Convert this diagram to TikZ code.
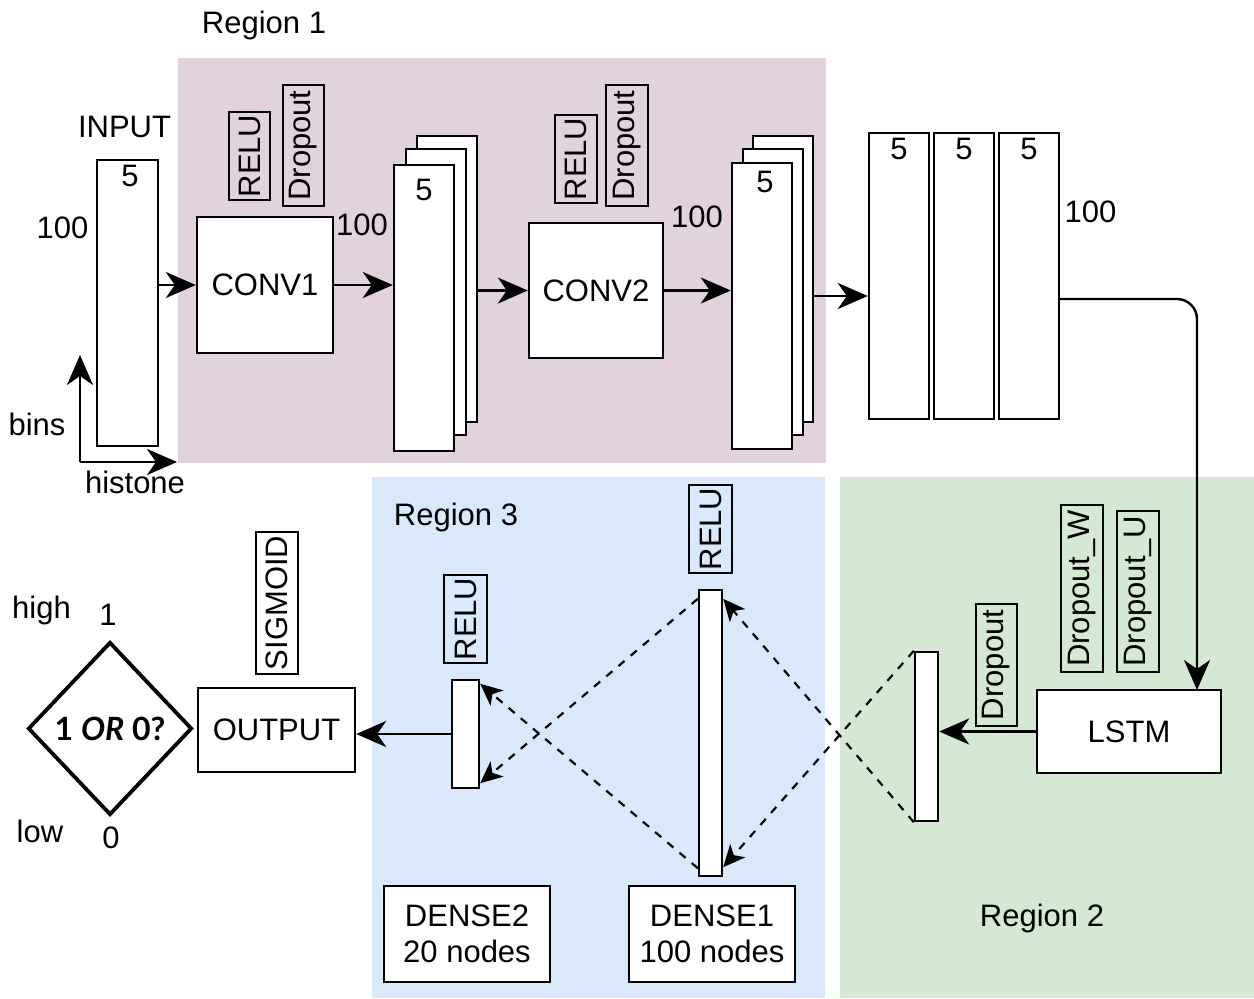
\documentclass[tikz,border=0pt]{standalone}
\usepackage{fontspec}
\setmainfont{Liberation Sans}
\newfontfamily\qfont{Lato}
\usetikzlibrary{arrows.meta}
\usetikzlibrary{calc}
\usetikzlibrary{shapes.geometric}

\definecolor{regA}{RGB}{225,210,222}
\definecolor{regB}{RGB}{213,232,212}
\definecolor{regC}{RGB}{218,232,252}

\begin{document}
\begin{tikzpicture}[x=0.5pt,y=0.5pt,yscale=-1,xscale=1,
  font=\fontsize{15.5}{18}\selectfont,
  sz/.style 2 args={minimum width=#1*0.5pt, minimum height=#2*0.5pt},
  blk/.style={draw, fill=white, line width=1.2pt, inner sep=0pt},
  tag/.style 2 args={draw, line width=1pt, rotate=90, inner sep=0pt, minimum width=#1*0.5pt, minimum height=#2*0.5pt},
  txt/.style={inner sep=0pt},
  arr/.style={line width=1.2pt, -{Stealth[length=15pt,width=13pt,inset=4.5pt]}},
  dsh/.style={line width=1.1pt, dash pattern=on 4pt off 4pt, -{Stealth[length=11pt,width=10pt,inset=3pt]}}]
\useasboundingbox (0,0) rectangle (1254,998);

%Shape: Rectangle
\fill [regA] (178,58) rectangle (826,463);
%Shape: Rectangle
\fill [regC] (372,477) rectangle (825,998);
%Shape: Rectangle
\fill [regB] (840,477) rectangle (1254,998);

% Text Node
\draw (264,33) node (reg1) [txt, anchor=base] {Region 1};
\draw (456,525) node (reg3) [txt, anchor=base] {Region 3};
\draw (1042,926) node (reg2) [txt, anchor=base] {Region 2};

%input column
\draw (124.5,137) node (inlab) [txt, anchor=base] {INPUT};
\draw (127.5,303) node (inp) [blk, sz={61}{286}] {};
\draw (130,176) node (inp5) [txt] {5};
\draw (62.5,238) node (inh) [txt, anchor=base] {100};
\draw (37,435) node (bins) [txt, anchor=base] {bins};
\draw (135,493) node (hist) [txt, anchor=base] {histone};
\coordinate (ax) at (80,462);
\coordinate (axu) at (80,355);
\coordinate (axr) at (177,462);
\draw [arr] (ax) -- (axu);
\draw [arr] (ax) -- (axr);

%first convolution
\draw (265,285) node (conv1) [blk, sz={136}{136}] {CONV1};
\draw (249.5,156) node (relu1) [tag={88}{41}] {RELU};
\draw (303.5,145.5) node (drop1) [tag={121}{41}] {Dropout};
\draw (362,235) node (h1) [txt, anchor=base] {100};
\draw (447,279) node (s1c) [blk, sz={60}{286}] {};
\draw (436,292) node (s1b) [blk, sz={60}{286}] {};
\draw (424,308) node (s1a) [blk, sz={60}{286}] {};
\draw (424,190) node (s15) [txt] {5};

%second convolution
\draw (596,290.5) node (conv2) [blk, sz={134}{135}] {CONV2};
\draw (576,159) node (relu2) [tag={88}{42}] {RELU};
\draw (627,145.5) node (drop2) [tag={121}{42}] {Dropout};
\draw (697,227) node (h2) [txt, anchor=base] {100};
\draw (783,279) node (s2c) [blk, sz={60}{286}] {};
\draw (773,292) node (s2b) [blk, sz={60}{286}] {};
\draw (762,306) node (s2a) [blk, sz={60}{286}] {};
\draw (765,182) node (s25) [txt] {5};

%sequence of feature columns
\draw (899,276) node (seq1) [blk, sz={60}{286}] {};
\draw (964,276) node (seq2) [blk, sz={60}{286}] {};
\draw (1029,276) node (seq3) [blk, sz={60}{286}] {};
\draw (899,149) node (q1) [txt] {5};
\draw (964,149) node (q2) [txt] {5};
\draw (1029,149) node (q3) [txt] {5};
\draw (1090.5,222) node (h3) [txt, anchor=base] {100};

%lstm part
\draw (1129,731.5) node (lstm) [blk, sz={184}{83}] {LSTM};
\draw (1082,588.5) node (dropw) [tag={167}{42}] {Dropout\_W};
\draw (1138,591.5) node (dropu) [tag={161}{42}] {Dropout\_U};
\draw (996.5,665) node (drop3) [tag={122}{41}] {Dropout};
\draw (926.5,736.5) node (lbar) [blk, sz={23}{169}] {};

%dense layers
\draw (710.5,733) node (d1) [blk, sz={23}{286}] {};
\draw (710.5,529) node (relu3) [tag={88}{43}] {RELU};
\draw (465.5,734) node (d2) [blk, sz={27}{108}] {};
\draw (465.5,619) node (relu4) [tag={88}{43}] {RELU};
\draw (467,934) node (d2lab) [blk, sz={166}{96}, align=center] {DENSE2\\20 nodes};
\draw (712,934) node (d1lab) [blk, sz={166}{96}, align=center] {DENSE1\\100 nodes};

%output
\draw (276.5,730) node (out) [blk, sz={157}{84}] {OUTPUT};
\draw (277,603) node (sig) [tag={142}{42}] {SIGMOID};
\draw (110,728.5) node (dec) [diamond, draw, line width=1.9pt, inner sep=0pt, sz={164}{173}, font={\qfont\bfseries\fontsize{16}{18}\selectfont}] {1 \textit{OR} 0?};
\draw (41.5,618) node (high) [txt, anchor=base] {high};
\draw (108,625) node (one) [txt, anchor=base] {1};
\draw (40,842) node (low) [txt, anchor=base] {low};
\draw (111,848) node (zero) [txt, anchor=base] {0};

%Straight Lines
\coordinate (j3) at (813,296);
\coordinate (k) at (1059,299);
\coordinate (k2) at (1197,690);
\draw [arr] (conv1.west -| inp.east) -- (conv1.west);
\draw [arr] (conv1.east) -- (conv1.east -| s1a.west);
\draw [arr] (conv2.west -| s1c.east) -- (conv2.west);
\draw [arr] (conv2.east) -- (conv2.east -| s2a.west);
\draw [arr] (j3) -- (j3 -| seq1.west);
\draw [arr, rounded corners=10pt] (k) -| (k2);
\draw [arr] (lstm.west) -- (lstm.west -| lbar.east);
\draw [arr] (d2.west) -- (d2.west -| out.east);

%Dashed connections
\draw [dsh] (lbar.north west) -- ($(d1.south east)+(0,-10)$);
\draw [dsh] (lbar.south west) -- ($(d1.north east)+(0,10)$);
\draw [dsh] ($(d1.north west)+(0,10)$) -- ($(d2.south east)+(0,-6)$);
\draw [dsh] ($(d1.south west)+(0,-9)$) -- ($(d2.north east)+(0,5)$);

\end{tikzpicture}
\end{document}
